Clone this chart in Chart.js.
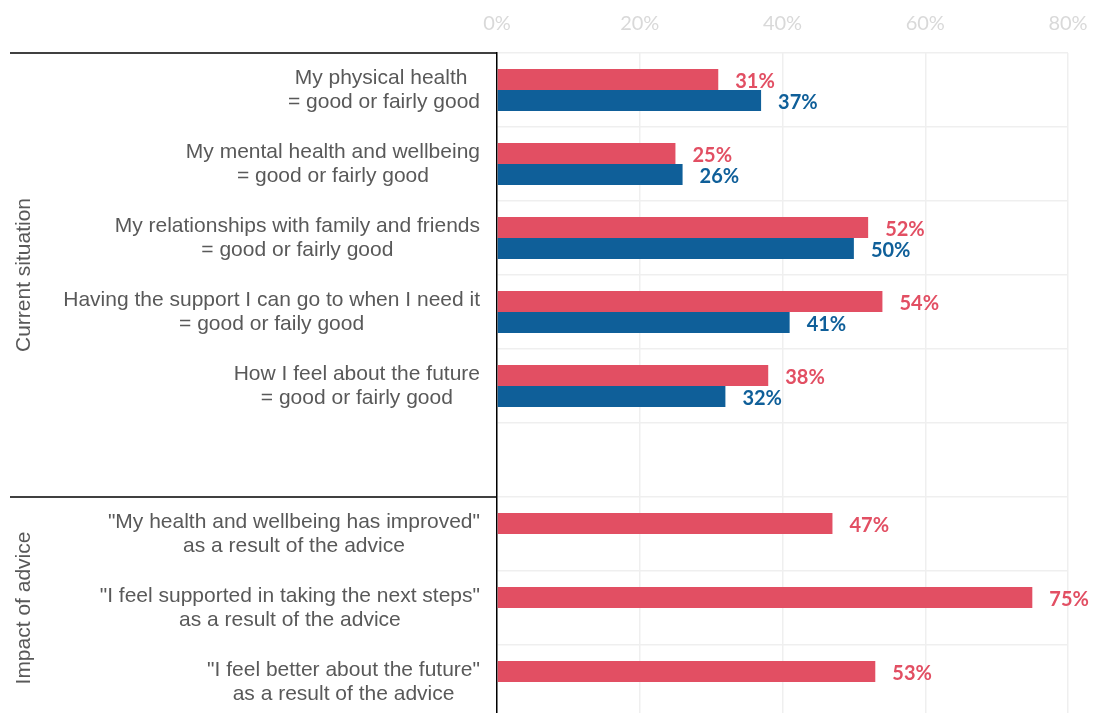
<!DOCTYPE html>
<html>
<head>
<meta charset="utf-8">
<script src="https://cdn.jsdelivr.net/npm/chart.js@4.4.1/dist/chart.umd.min.js"></script>
<style>
  html, body { margin: 0; padding: 0; background: #fff; overflow: hidden; }
  canvas { display: block; }
</style>
</head>
<body>
<canvas id="adviceChart" width="1106" height="720"></canvas>
<script>
// rows, top to bottom (the empty row keeps the two blocks apart)
const categories = [
  ['My physical health ', '= good or fairly good'],
  ['My mental health and wellbeing', '= good or fairly good'],
  ['My relationships with family and friends', '= good or fairly good'],
  ['Having the support I can go to when I need it', '= good or faily good'],
  ['How I feel about the future', '= good or fairly good'],
  [''],
  ['"My health and wellbeing has improved"', 'as a result of the advice'],
  ['"I feel supported in taking the next steps"', 'as a result of the advice'],
  ['"I feel better about the future"', 'as a result of the advice']
];

const followUp = [31, 25, 52, 54, 38, null, 47, 75, 53];
const baseline = [37, 26, 50, 41, 32, null, null, null, null];

const xTicks = [0, 20, 40, 60, 80];

const groupNames = ['Current situation', 'Impact of advice'];
const groupStarts = [0, 6];
const groupEnds = [5, 8];

const RED = '#E24F63';
const BLUE = '#0F5F99';

// category text, group rules and rotated group names on the left
const sideLabels = {
  id: 'sideLabels',
  afterDraw(chart) {
    const { ctx, chartArea, scales: { y } } = chart;
    const half = (y.getPixelForValue(1) - y.getPixelForValue(0)) / 2;
    ctx.save();
    ctx.font = '21px "Liberation Sans", Arial, sans-serif';
    ctx.fillStyle = '#595959';
    ctx.textAlign = 'center';
    ctx.textBaseline = 'middle';
    categories.forEach((lines, i) => {
      const cy = y.getPixelForValue(i);
      const w = Math.max(...lines.map(l => ctx.measureText(l).width));
      const cx = chartArea.left - 17 - w / 2;
      lines.forEach((l, j) => {
        ctx.fillText(l, cx, cy + (j - (lines.length - 1) / 2) * 24);
      });
    });

    ctx.strokeStyle = '#000';
    ctx.lineWidth = 1.5;
    groupStarts.forEach(s => {
      const ly = y.getPixelForValue(s) - half;
      ctx.beginPath();
      ctx.moveTo(10, ly);
      ctx.lineTo(chartArea.left, ly);
      ctx.stroke();
    });

    groupNames.forEach((name, g) => {
      const top = y.getPixelForValue(groupStarts[g]) - half;
      const bottom = y.getPixelForValue(groupEnds[g]) + half;
      ctx.save();
      ctx.translate(24, (top + bottom) / 2);
      ctx.rotate(-Math.PI / 2);
      ctx.fillText(name, 0, 0);
      ctx.restore();
    });
    ctx.restore();
  }
};

// percentage labels at the end of each bar
const barValues = {
  id: 'barValues',
  afterDatasetsDraw(chart) {
    const { ctx } = chart;
    ctx.save();
    ctx.font = 'bold 20px Lato, "Open Sans", sans-serif';
    ctx.textAlign = 'left';
    ctx.textBaseline = 'middle';
    chart.data.datasets.forEach((ds, di) => {
      const meta = chart.getDatasetMeta(di);
      ctx.fillStyle = ds.backgroundColor;
      meta.data.forEach((bar, i) => {
        const v = ds.data[i];
        if (v === null || v === undefined) return;
        ctx.fillText(v + '%', bar.x + 17, bar.y + 2);
      });
    });
    ctx.restore();
  }
};

new Chart(document.getElementById('adviceChart'), {
  type: 'bar',
  data: {
    labels: categories,
    datasets: [
      { label: 'Follow-up', data: followUp, backgroundColor: RED },
      { label: 'Baseline', data: baseline, backgroundColor: BLUE }
    ]
  },
  options: {
    indexAxis: 'y',
    responsive: false,
    animation: false,
    categoryPercentage: 0.57,
    barPercentage: 1,
    layout: { padding: { top: 0, right: 38, bottom: 1, left: 0 } },
    plugins: {
      legend: { display: false },
      tooltip: { enabled: false }
    },
    scales: {
      x: {
        position: 'top',
        min: xTicks[0],
        max: xTicks[xTicks.length - 1],
        ticks: {
          stepSize: xTicks[1] - xTicks[0],
          padding: 17,
          color: '#d9d9d9',
          font: { family: 'Lato', size: 20 },
          callback: v => v + '%'
        },
        grid: { color: '#efefef', lineWidth: 1.5, drawTicks: false },
        border: { display: false },
        afterFit: s => { s.height = 53; }
      },
      y: {
        ticks: { display: false },
        grid: { color: '#efefef', lineWidth: 1.5, drawTicks: false },
        border: { color: '#000', width: 1.5 },
        afterFit: s => { s.width = 497; }
      }
    }
  },
  plugins: [sideLabels, barValues]
});
</script>
</body>
</html>
